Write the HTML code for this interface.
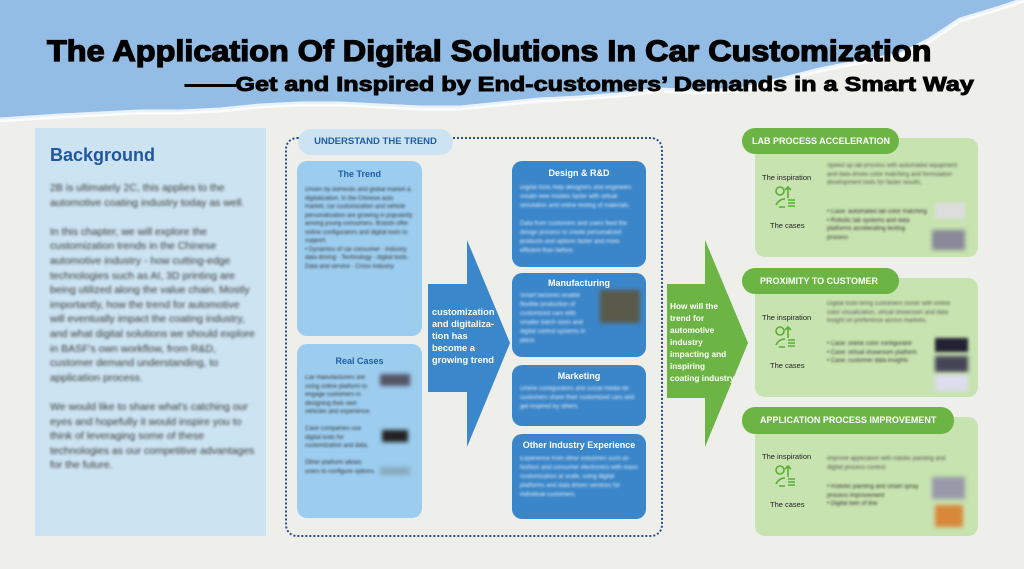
<!DOCTYPE html>
<html><head><meta charset="utf-8"><style>
*{margin:0;padding:0;box-sizing:border-box}
body{width:1024px;height:569px;overflow:hidden;background:#eeeeeb;font-family:"Liberation Sans",sans-serif;position:relative}
.a{position:absolute}
.bl{filter:blur(1.3px);color:#3a3a3a;font-size:10.5px;line-height:14.6px}
.bw{filter:blur(1px);color:#e4eef9;font-size:6px;line-height:9px}
.bg{filter:blur(1px);color:#555;font-size:6px;line-height:8.5px}
.bd{filter:blur(1px);color:#333;font-size:6px;line-height:8.5px}
.box{border-radius:10px}
.h{font-weight:bold;text-align:center}
</style></head><body>
<svg class="a" style="left:0;top:0" width="1024" height="140">
<path d="M0 0H1024V0L1000 8 960 20 930 40 900 55 860 62 820 70 780 80 740 90 700 92 660 90 620 95 580 98 540 100 500 104 460 108 420 108 380 106 340 104 300 104 260 106 220 110 180 112 140 112 100 114 60 116 30 118 0 120Z" fill="#93bde4"/>
<path d="M1024 0L1000 8 960 20 930 40 900 55 860 62 820 70 780 80 740 90 700 92 660 90 620 95 580 98 540 100 500 104 460 108 420 108 380 106 340 104 300 104 260 106 220 110 180 112 140 112 100 114 60 116 30 118 0 120" fill="none" stroke="#fff" stroke-width="5" opacity=".8"/>
</svg>
<div class="a" style="left:47px;top:35px;font-size:30px;font-weight:900;color:#000;white-space:nowrap;-webkit-text-stroke:1.3px #000;transform-origin:0 0;transform:scaleX(1.08)">The Application Of Digital Solutions In Car Customization</div>
<div class="a" style="left:185px;top:74px;font-size:20px;font-weight:900;color:#000;white-space:nowrap;-webkit-text-stroke:0.9px #000;transform-origin:0 0;transform:scaleX(1.26)">——Get and Inspired by End-customers’ Demands in a Smart Way</div>

<div class="a" style="left:35px;top:128px;width:231px;height:408px;background:#cce3f1"></div>
<div class="a" style="left:50px;top:145px;font-size:18px;font-weight:bold;color:#22579f">Background</div>
<div class="a bl" style="left:50px;top:181px;width:205px">2B is ultimately 2C, this applies to the automotive coating industry today as well.<br><br>In this chapter, we will explore the customization trends in the Chinese automotive industry - how cutting-edge technologies such as AI, 3D printing are being utilized along the value chain. Mostly importantly, how the trend for automotive will eventually impact the coating industry, and what digital solutions we should explore in BASF's own workflow, from R&amp;D, customer demand understanding, to application process.<br><br>We would like to share what's catching our eyes and hopefully it would inspire you to think of leveraging some of these technologies as our competitive advantages for the future.</div>

<div class="a" style="left:285px;top:137px;width:378px;height:400px;border:2.5px dotted #2c4f94;border-radius:12px"></div>
<div class="a" style="left:298px;top:129px;width:155px;height:26px;background:#cbe3f3;border-radius:13px;color:#1f5fa8;font-size:9.5px;font-weight:bold;line-height:26px;text-align:center">UNDERSTAND THE TREND</div>

<div class="a box" style="left:297px;top:161px;width:125px;height:175px;background:#9ccdef"></div>
<div class="a h" style="left:297px;top:169px;width:125px;font-size:9px;color:#1f5fa8">The Trend</div>
<div class="a bd" style="left:305px;top:186px;width:110px">Driven by domestic and global market & digitalization. In the Chinese auto market, car customization and vehicle personalization are growing in popularity among young consumers. Brands offer online configurators and digital tools to support.<br>• Dynamics of car consumer · Industry data driving · Technology - digital tools · Data and service · Cross industry</div>
<div class="a box" style="left:297px;top:344px;width:125px;height:174px;background:#9ccdef"></div>
<div class="a h" style="left:297px;top:356px;width:125px;font-size:9px;color:#1f5fa8">Real Cases</div>
<div class="a bd" style="left:305px;top:374px;width:72px">Car manufacturers are using online platform to engage customers in designing their own vehicles and experience.<br><br>Case companies use digital tools for customization and data.<br><br>Other platform allows users to configure options.</div>
<div class="a" style="left:380px;top:374px;width:30px;height:12px;background:#556;filter:blur(2px)"></div>
<div class="a" style="left:382px;top:430px;width:26px;height:12px;background:#222;filter:blur(2px)"></div>
<div class="a" style="left:380px;top:467px;width:30px;height:8px;background:#8ab;filter:blur(2px)"></div>

<svg class="a" style="left:420px;top:235px" width="100" height="220"><path d="M8 49H47V5L90 108 47 212V157H8Z" fill="#3a87cb"/></svg>
<div class="a" style="left:432px;top:306px;color:#fff;font-size:9.3px;font-weight:bold;line-height:12px;width:66px">customization and digitaliza-tion has become a growing trend</div>

<div class="a box" style="left:512px;top:161px;width:134px;height:106px;background:#3b86c9"></div>
<div class="a h" style="left:512px;top:168px;width:134px;font-size:9px;color:#fff">Design &amp; R&amp;D</div>
<div class="a bw" style="left:520px;top:184px;width:120px">Digital tools help designers and engineers create new models faster with virtual simulation and online testing of materials.<br><br>Data from customers and users feed the design process to create personalized products and options faster and more efficient than before.</div>
<div class="a box" style="left:512px;top:273px;width:134px;height:84px;background:#3b86c9"></div>
<div class="a h" style="left:512px;top:278px;width:134px;font-size:9px;color:#fff">Manufacturing</div>
<div class="a bw" style="left:520px;top:292px;width:75px">Smart factories enable flexible production of customized cars with smaller batch sizes and digital control systems in place.</div>
<div class="a" style="left:600px;top:290px;width:40px;height:33px;background:#5a5a4a;filter:blur(2px)"></div>
<div class="a box" style="left:512px;top:365px;width:134px;height:61px;background:#3b86c9"></div>
<div class="a h" style="left:512px;top:371px;width:134px;font-size:9px;color:#fff">Marketing</div>
<div class="a bw" style="left:520px;top:385px;width:120px">Online configurators and social media let customers share their customized cars and get inspired by others.</div>
<div class="a box" style="left:512px;top:434px;width:134px;height:85px;background:#3b86c9"></div>
<div class="a h" style="left:512px;top:440px;width:134px;font-size:9px;color:#fff">Other Industry Experience</div>
<div class="a bw" style="left:520px;top:455px;width:120px">Experience from other industries such as fashion and consumer electronics with mass customization at scale, using digital platforms and data driven services for individual customers.</div>

<svg class="a" style="left:660px;top:235px" width="100" height="220"><path d="M7 49H45V5L88 108 45 212V163H7Z" fill="#6cb545"/></svg>
<div class="a" style="left:670px;top:300px;color:#fff;font-size:8.3px;font-weight:bold;line-height:12px;width:76px">How will the<br>trend for<br>automotive<br>industry<br>impacting and<br>inspiring<br>coating industry</div>

<div class="a" style="left:755px;top:138px;width:223px;height:119px;background:#c7e3b0;border-radius:10px"></div>
<div class="a" style="left:742px;top:128px;width:157px;height:26px;background:#6cb545;border-radius:13px;color:#fff;font-size:9px;font-weight:bold;line-height:26px;padding-left:10px">LAB PROCESS ACCELERATION</div>
<div class="a" style="left:755px;top:278px;width:223px;height:119px;background:#c7e3b0;border-radius:10px"></div>
<div class="a" style="left:742px;top:268px;width:157px;height:26px;background:#6cb545;border-radius:13px;color:#fff;font-size:9px;font-weight:bold;line-height:26px;padding-left:18px">PROXIMITY TO CUSTOMER</div>
<div class="a" style="left:755px;top:417px;width:223px;height:119px;background:#c7e3b0;border-radius:10px"></div>
<div class="a" style="left:742px;top:407px;width:212px;height:27px;background:#6cb545;border-radius:13px;color:#fff;font-size:9px;font-weight:bold;line-height:27px;padding-left:18px">APPLICATION PROCESS IMPROVEMENT</div>

<div class="a" style="left:762px;top:173px;font-size:7.5px;color:#222">The inspiration</div>
<div class="a" style="left:770px;top:221px;font-size:7.5px;color:#222">The cases</div>
<div class="a" style="left:762px;top:313px;font-size:7.5px;color:#222">The inspiration</div>
<div class="a" style="left:770px;top:361px;font-size:7.5px;color:#222">The cases</div>
<div class="a" style="left:762px;top:452px;font-size:7.5px;color:#222">The inspiration</div>
<div class="a" style="left:770px;top:500px;font-size:7.5px;color:#222">The cases</div>

<svg class="a" style="left:773px;top:185px" width="30" height="25"><g fill="none" stroke="#5aae35" stroke-width="1.6"><circle cx="7" cy="6" r="4"/><path d="M15 13V2M12 5L15 2 18 5M3 20Q6 14 12 14M6 22H12M15 15H22M15 18H22M15 21H22"/></g></svg>
<svg class="a" style="left:773px;top:325px" width="30" height="25"><g fill="none" stroke="#5aae35" stroke-width="1.6"><circle cx="7" cy="6" r="4"/><path d="M15 13V2M12 5L15 2 18 5M3 20Q6 14 12 14M6 22H12M15 15H22M15 18H22M15 21H22"/></g></svg>
<svg class="a" style="left:773px;top:464px" width="30" height="25"><g fill="none" stroke="#5aae35" stroke-width="1.6"><circle cx="7" cy="6" r="4"/><path d="M15 13V2M12 5L15 2 18 5M3 20Q6 14 12 14M6 22H12M15 15H22M15 18H22M15 21H22"/></g></svg>

<div class="a bg" style="left:827px;top:162px;width:132px">Speed up lab process with automated equipment and data driven color matching and formulation development tools for faster results.</div>
<div class="a bd" style="left:827px;top:208px;width:100px">• Case: automated lab color matching<br>• Robotic lab systems and data platforms accelerating testing process</div>
<div class="a" style="left:935px;top:203px;width:30px;height:16px;background:#ddd;filter:blur(1.5px)"></div>
<div class="a" style="left:932px;top:230px;width:33px;height:20px;background:#889;filter:blur(2px)"></div>

<div class="a bg" style="left:827px;top:300px;width:132px">Digital tools bring customers closer with online color visualization, virtual showroom and data insight on preference across markets.</div>
<div class="a bd" style="left:827px;top:340px;width:100px">• Case: online color configurator<br>• Case: virtual showroom platform<br>• Case: customer data insights</div>
<div class="a" style="left:935px;top:338px;width:33px;height:14px;background:#223;filter:blur(1.5px)"></div>
<div class="a" style="left:935px;top:356px;width:33px;height:16px;background:#445;filter:blur(2px)"></div>
<div class="a" style="left:935px;top:375px;width:33px;height:16px;background:#dde;filter:blur(2px)"></div>

<div class="a bg" style="left:827px;top:455px;width:132px">Improve application with robotic painting and digital process control.</div>
<div class="a bd" style="left:827px;top:483px;width:100px">• Robotic painting and smart spray process improvement<br>• Digital twin of line</div>
<div class="a" style="left:932px;top:477px;width:33px;height:22px;background:#99a;filter:blur(2px)"></div>
<div class="a" style="left:935px;top:505px;width:28px;height:22px;background:#d8883a;filter:blur(2px)"></div>
</body></html>
